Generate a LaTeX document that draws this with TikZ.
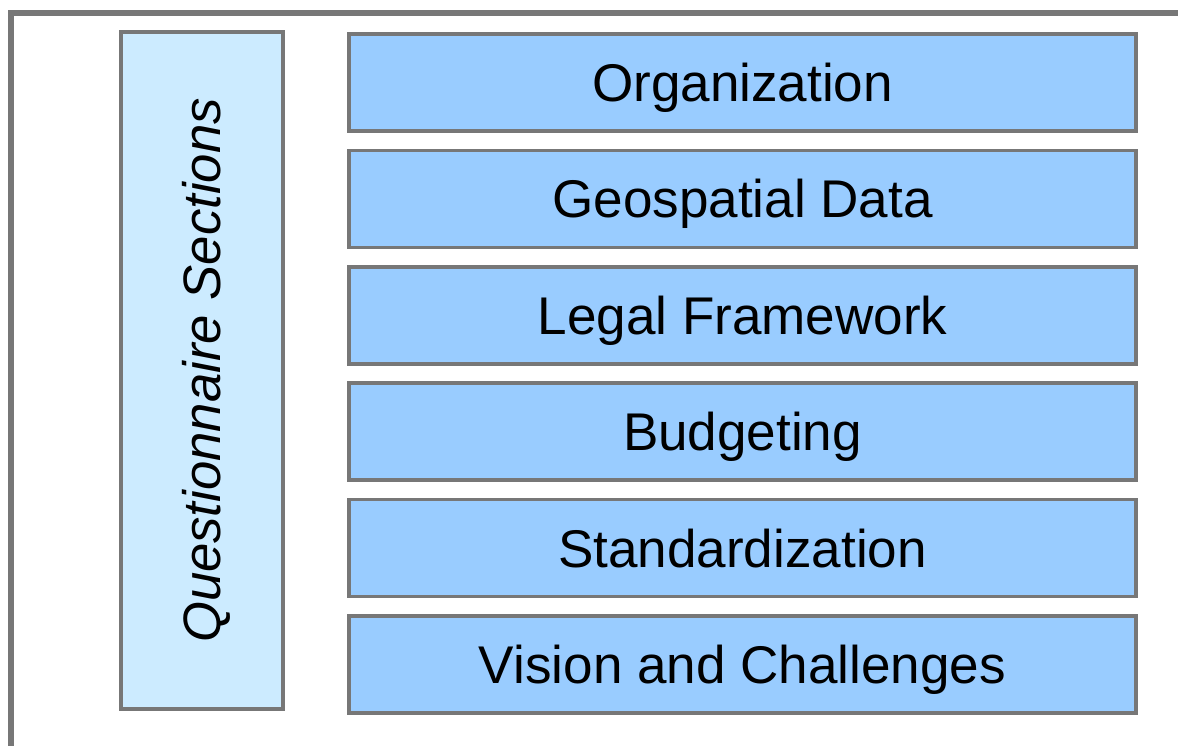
\documentclass[tikz,border=0pt]{standalone}
\usepackage{fontspec}
\setmainfont{Liberation Sans}
\usetikzlibrary{positioning}

\definecolor{framegray}{HTML}{777777}
\definecolor{secblue}{HTML}{99CCFF}
\definecolor{titleblue}{HTML}{CCEBFF}

\begin{document}
\begin{tikzpicture}[x=0.02cm, y=-0.02cm]
\tikzstyle{section} = [draw=framegray, line width=2pt, fill=secblue, minimum width=15.74cm, minimum height=1.94cm, inner sep=0, text height=21.6pt, text depth=0pt, font=\fontsize{30.2}{36}\selectfont]
\tikzstyle{titlebox} = [draw=framegray, line width=2pt, fill=titleblue, minimum width=13.54cm, minimum height=3.24cm, inner sep=0, rotate=90, text height=21.5pt, text depth=0pt, font=\fontsize{30}{36}\selectfont\itshape]

\useasboundingbox (0,0) rectangle (1178,746);

% Rahmen
\coordinate (frametop) at (8,13);
\coordinate (frameright) at (1178,13);
\coordinate (framebottom) at (11,746);
\draw[framegray, line width=3.6pt] (frameright) -- (frametop -| framebottom) -- (framebottom);

% Titel
\node[titlebox] (title) at (202,370.5) {Questionnaire Sections};

% Abschnitte
\foreach \i/\txt in {0/Organization, 1/Geospatial Data, 2/Legal Framework, 3/Budgeting, 4/Standardization, 5/Vision and Challenges} {
  \pgfmathsetmacro\y{82.5 + 116.4*\i}
  \node[section] (sec\i) at (742.5,\y) {\txt};
}

\end{tikzpicture}
\end{document}
